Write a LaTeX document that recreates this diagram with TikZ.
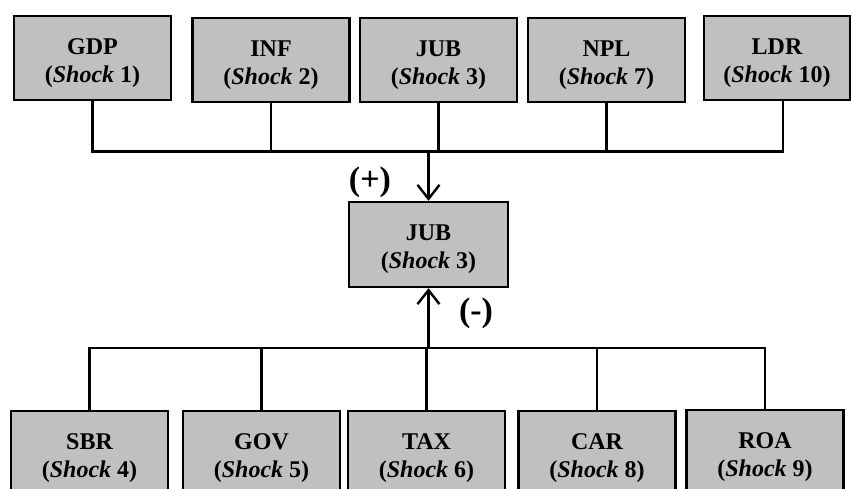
\documentclass[tikz,border=0pt]{standalone}
\usepackage{fontspec}
\setmainfont{Liberation Serif}
\usetikzlibrary{arrows.meta,calc}
\definecolor{boxgray}{RGB}{192,192,192}
\tikzset{
  varbox/.style={draw=black, line width=2.4pt, fill=boxgray, minimum width=157pt, minimum height=84pt,
    inner sep=0pt, align=center, font=\fontsize{24}{28}\selectfont\bfseries},
  conn/.style={draw=black, line width=2.2pt},
  arr/.style={conn, -{Straight Barb[length=14pt,width=22pt,line width=2.4pt]}},
  sign/.style={font=\fontsize{34}{36}\selectfont\bfseries, inner sep=0pt}
}
\newcommand{\shk}[2]{\rule{0pt}{26pt}#1\\(\textit{Shock} #2)}
\begin{document}
\begin{tikzpicture}[x=1pt,y=1pt]
\useasboundingbox (0,0) rectangle (851,-488);
\clip (0,0) rectangle (851,-488);
% top row
\node[varbox] (gdp) at (92.5,-58) {\shk{GDP}{1}};
\node[varbox] (inf) at (271,-60) {\shk{INF}{2}};
\node[varbox] (jubt) at (438.5,-60) {\shk{JUB}{3}};
\node[varbox] (npl) at (606.5,-60) {\shk{NPL}{7}};
\node[varbox, minimum width=146pt] (ldr) at (777,-58) {\shk{LDR}{10}};
% middle
\node[varbox, minimum width=159pt, minimum height=85pt] (jub) at (428.5,-244.5) {\shk{JUB}{3}};
% bottom row
\node[varbox] (sbr) at (89.5,-453) {\shk{SBR}{4}};
\node[varbox] (gov) at (261.5,-453) {\shk{GOV}{5}};
\node[varbox] (tax) at (426.5,-453) {\shk{TAX}{6}};
\node[varbox] (car) at (597,-453) {\shk{CAR}{8}};
\node[varbox] (roa) at (765,-452) {\shk{ROA}{9}};
% junctions
\coordinate (tj) at (428.5,-151.5);
\coordinate (bj) at (428.5,-348);
% top connectors
\draw[conn] (gdp.south) |- (tj);
\draw[conn] (inf.south) |- (tj);
\draw[conn] (jubt.south) |- (tj);
\draw[conn] (npl.south) |- (tj);
\draw[conn] ($(ldr.south)+(6,0)$) |- (tj);
\draw[conn, line width=3pt] (inf.south |- tj) -- (npl.south |- tj);
\draw[arr] (tj) -- (jub.north);
% bottom connectors
\draw[conn] (sbr.north) |- (bj);
\draw[conn] (gov.north) |- (bj);
\draw[conn] (tax.north) |- (bj);
\draw[conn] (car.north) |- (bj);
\draw[conn] (roa.north) |- (bj);
\draw[arr] (bj) -- (jub.south);
% signs
\node[sign] (plus) at (370,-182) {(+)};
\node[sign] (minus) at (476,-313) {(-)};
\end{tikzpicture}
\end{document}
